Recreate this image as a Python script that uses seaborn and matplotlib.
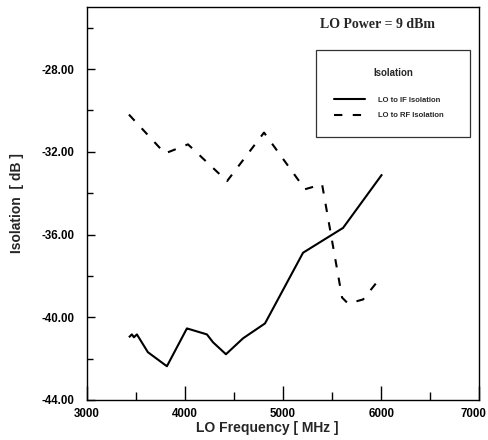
import matplotlib
matplotlib.use("Agg")
import matplotlib.pyplot as plt
import seaborn as sns
import pandas as pd
from matplotlib.ticker import MultipleLocator, FormatStrFormatter
from matplotlib.lines import Line2D

# Data
if_freq = [3429, 3459, 3480, 3510, 3622, 3816, 4020, 4224, 4286, 4418, 4592, 4816, 5204, 5612, 6010]
if_iso = [-40.97, -40.83, -40.97, -40.83, -41.69, -42.37, -40.54, -40.83, -41.21, -41.79, -41.02, -40.30, -36.88, -35.68, -33.09]

rf_freq = [3429, 3796, 4031, 4429, 4806, 5224, 5398, 5602, 5663, 5816, 6010]
rf_iso = [-30.2, -32.08, -31.64, -33.42, -31.07, -33.81, -33.57, -39.05, -39.34, -39.14, -37.99]

labels = ["LO to IF Isolation", "LO to RF Isolation"]
x_ticks = [3000, 4000, 5000, 6000, 7000]
y_ticks = [-44, -40, -36, -32, -28]

df = pd.concat([
    pd.DataFrame({"freq": if_freq, "iso": if_iso, "series": labels[0]}),
    pd.DataFrame({"freq": rf_freq, "iso": rf_iso, "series": labels[1]}),
])

sns.set_theme(style="white")
plt.rcParams['font.family'] = ['Liberation Sans', 'DejaVu Sans']

fig = plt.figure(figsize=(4.88, 4.40), dpi=100)
ax = fig.add_axes([0.178, 0.091, 0.804, 0.893])

sns.lineplot(data=df, x="freq", y="iso", hue="series", style="series",
             palette=["black", "black"], dashes=[(1, 0), (4, 5)],
             linewidth=1.5, ax=ax, sort=False, estimator=None, legend=False)

ax.set_xlim(3000, 7000)
ax.set_ylim(-44, -25)
ax.set_xticks(x_ticks)
# last label drawn separately so that it stays inside the figure
ax.set_xticklabels([str(v) for v in x_ticks[:-1]] + [""])
ax.xaxis.set_minor_locator(MultipleLocator(500))
ax.yaxis.set_minor_locator(MultipleLocator(2))
ax.set_yticks(y_ticks)
ax.yaxis.set_major_formatter(FormatStrFormatter("%.2f"))
ax.tick_params(axis="both", which="both", direction="in", labelsize=8.3,
               colors="black", bottom=True, left=True)
ax.tick_params(axis="x", which="major", length=10, width=1, pad=6)
ax.tick_params(axis="x", which="minor", length=6, width=1)
ax.tick_params(axis="y", which="major", length=6, width=1, pad=9)
ax.tick_params(axis="y", which="minor", length=4, width=1)
for lab in ax.get_xticklabels() + ax.get_yticklabels():
    lab.set_fontweight("bold")
ax.annotate(str(x_ticks[-1]), xy=(x_ticks[-1], 0), xycoords=("data", "axes fraction"),
            xytext=(5.5, -6), textcoords="offset points", ha="right", va="top",
            fontsize=8.3, fontweight="bold", color="black")

for s in ax.spines.values():
    s.set_color("black")
    s.set_linewidth(1.0)

ax.set_xlabel("LO Frequency [ MHz ]", fontsize=10, fontweight="bold")
ax.xaxis.set_label_coords(0.46, -0.053)
ax.set_ylabel("Isolation  [ dB ]", fontsize=10, fontweight="bold")
ax.yaxis.set_label_coords(-0.16, 0.5)

ax.text(0.74, 0.955, "LO Power = 9 dBm", transform=ax.transAxes, ha="center", va="center",
        fontsize=10, fontweight="bold", family=["Liberation Serif", "DejaVu Serif"])

handles = [Line2D([], [], color="black", lw=1.5, ls="-"),
           Line2D([], [], color="black", lw=1.5, ls=(0, (4, 5)))]
leg = ax.legend(handles, [l + "    " for l in labels],
                title="Isolation\n", loc="upper right", bbox_to_anchor=(0.977, 0.89),
                borderaxespad=0,
                fontsize=5.5, title_fontproperties={"weight": "bold", "size": 7},
                frameon=True, fancybox=False, edgecolor="black",
                handlelength=4.0, borderpad=2.3, labelspacing=1.1, handletextpad=1.8)
leg.get_title().set_linespacing(1.0)
leg.get_frame().set_linewidth(0.9)
for t in leg.get_texts():
    t.set_fontweight("bold")

fig.savefig("out.png", dpi=100, facecolor="white")
